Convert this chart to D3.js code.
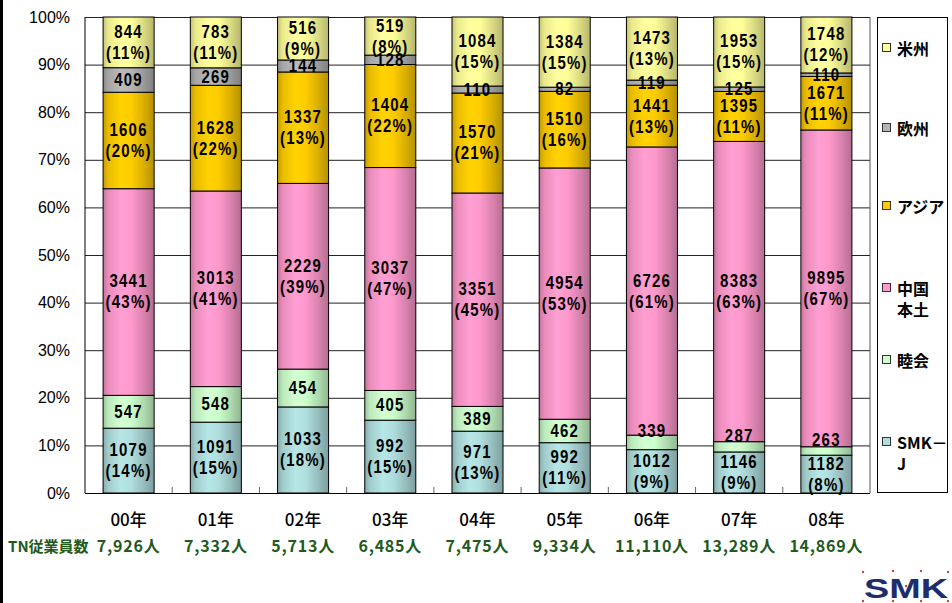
<!DOCTYPE html>
<html><head><meta charset="utf-8">
<script src="https://cdn.jsdelivr.net/npm/d3@7/dist/d3.min.js"></script>
<style>
body{margin:0;background:#fff;}
svg{display:block;}
</style></head>
<body>
<svg id="chart" width="952" height="603"></svg>
<script>
// ---- data ----
const categories = ["00年","01年","02年","03年","04年","05年","06年","07年","08年"];
const employeeTotals = ["7,926人","7,332人","5,713人","6,485人","7,475人","9,334人","11,110人","13,289人","14,869人"];
const seriesNames = ["SMK-J","睦会","中国本土","アジア","欧州","米州"]; // bottom to top
const legendLines = [["SMK－","J"],["睦会"],["中国","本土"],["アジア"],["欧州"],["米州"]];
const smkJ    = [1079,1091,1033,992,971,992,1012,1146,1182];
const mutsukai= [547,548,454,405,389,462,339,287,263];
const china   = [3441,3013,2229,3037,3351,4954,6726,8383,9895];
const asia    = [1606,1628,1337,1404,1570,1510,1441,1395,1671];
const europe  = [409,269,144,128,110,82,119,125,110];
const america = [844,783,516,519,1084,1384,1473,1953,1748];
const pctSmkJ    = [14,15,18,15,13,11,9,9,8];
const pctChina   = [43,41,39,47,45,53,61,63,67];
const pctAsia    = [20,22,13,22,21,16,13,11,11];
const pctAmerica = [11,11,9,8,15,15,13,15,12];
const yTicks = [0,0.1,0.2,0.3,0.4,0.5,0.6,0.7,0.8,0.9,1.0];

const seriesValues = [smkJ, mutsukai, china, asia, europe, america];
const seriesPct = [pctSmkJ, null, pctChina, pctAsia, null, pctAmerica];
const seriesColors = ["#b0dede","#ccffcc","#ff99cc","#ffcc00","#b4b4b4","#ffff99"];

const rows = categories.map((c,i)=>{
  const r = {cat:c, i:i};
  seriesNames.forEach((s,k)=>{ r[s] = seriesValues[k][i]; });
  return r;
});

const svg = d3.select("#chart");
const L = 85, R = 870, T = 17, B = 493;
const x = d3.scaleBand().domain(categories).range([L,R]).paddingInner(0.415).paddingOuter(0.2075);
const y = d3.scaleLinear().domain([0,1]).range([B,T]);

// left black border
svg.append("rect").attr("x",0).attr("y",0).attr("width",3).attr("height",603).attr("fill","#000");

// gradients
const defs = svg.append("defs");
seriesColors.forEach((c,k)=>{
  const g = defs.append("linearGradient").attr("id","g"+k).attr("x1","0%").attr("x2","100%").attr("y1","0%").attr("y2","0%");
  const base = d3.color(c);
  const stops = [[0, base.darker(0.75)],[0.1, base.darker(0.25)],[0.35, base.brighter(0.1)],[0.55, base],[0.8, base.darker(0.45)],[1, base.darker(0.95)]];
  stops.forEach(([o,col])=>g.append("stop").attr("offset",o).attr("stop-color",col.formatHex()));
});

// gridlines
svg.append("g").attr("transform",`translate(${L},0)`)
  .call(d3.axisLeft(y).tickValues(yTicks).tickSize(-(R-L)).tickFormat(""))
  .call(g=>g.select(".domain").remove())
  .call(g=>g.selectAll("line").attr("stroke","#222").attr("stroke-width",1));

// plot borders
svg.append("line").attr("x1",R).attr("x2",R).attr("y1",T).attr("y2",B).attr("stroke","#555");
svg.append("line").attr("x1",L).attr("x2",L).attr("y1",T).attr("y2",B).attr("stroke","#000");

// y labels
svg.append("g").attr("transform",`translate(${L},0)`)
  .call(d3.axisLeft(y).tickValues(yTicks).tickSize(0).tickPadding(15).tickFormat(d3.format(".0%")))
  .call(g=>g.select(".domain").remove())
  .call(g=>g.selectAll("text").attr("font-family","Liberation Sans, Arial, sans-serif").attr("font-size",16).attr("fill","#000"));

// stack
const stack = d3.stack().keys(seriesNames).offset(d3.stackOffsetExpand);
const stacked = stack(rows);

const barG = svg.append("g");
stacked.forEach((layer,k)=>{
  barG.selectAll(null).data(layer).enter().append("rect")
    .attr("x",d=>x(d.data.cat))
    .attr("width",x.bandwidth())
    .attr("y",d=>y(d[1]))
    .attr("height",d=>y(d[0])-y(d[1]))
    .attr("fill",`url(#g${k})`)
    .attr("stroke","#000").attr("stroke-width",1);
});

// bottom axis line and category ticks
svg.append("g").attr("transform",`translate(0,${B})`)
  .call(d3.axisBottom(x).tickSize(0).tickFormat(""))
  .call(g=>g.select(".domain").attr("stroke","#000").attr("d",`M${L},0.5H${R}`));
const step = x.step();
svg.append("g").selectAll("line").data(d3.range(1,categories.length)).enter().append("line")
  .attr("x1",d=>L+d*step).attr("x2",d=>L+d*step).attr("y1",B).attr("y2",B-6)
  .attr("stroke","#666").attr("stroke-width",1);

// value labels (tall, narrow glyphs); value + percent in one text element
const labG = svg.append("g").attr("font-family","Liberation Sans, Arial, sans-serif").attr("font-weight","bold")
  .attr("font-size",15).attr("fill","#000").attr("text-anchor","middle");
const SY = 1.2;
stacked.forEach((layer,k)=>{
  layer.forEach((d,i)=>{
    const cx = x(d.data.cat) + x.bandwidth()/2;
    const y0 = y(d[0]), y1 = y(d[1]);
    const cy = (y0+y1)/2;
    const v = seriesValues[k][i];
    const p = seriesPct[k] ? seriesPct[k][i] : null;
    if (p !== null) {
      const t = labG.append("text").attr("transform",`translate(${cx},${cy-10.5}) scale(1,${SY})`)
        .attr("letter-spacing",1.2);
      t.append("tspan").attr("x",0).attr("y",0).attr("dominant-baseline","central").text(v);
      t.append("tspan").attr("x",0).attr("y",21/SY).attr("dominant-baseline","central").text(`(${p}%)`);
    } else {
      let yy = cy;
      if (seriesNames[k]==="睦会" && (y0-y1) < 16) yy = cy - 11;
      labG.append("text").attr("transform",`translate(${cx},${yy}) scale(1,${SY})`)
        .attr("dominant-baseline","central").attr("letter-spacing",1.2).text(v);
    }
  });
});

// category labels
svg.append("g").selectAll("text").data(categories).enter().append("text")
  .attr("x",d=>x(d)+x.bandwidth()/2).attr("y",518).attr("dominant-baseline","central")
  .attr("text-anchor","middle").attr("font-family","'Noto Sans CJK JP', sans-serif").attr("font-weight",500)
  .attr("font-size",17).attr("fill","#000").text(d=>d);

// employee totals
const green = "#1f5a1f";
svg.append("text").attr("x",8).attr("y",545).attr("dominant-baseline","central")
  .attr("font-family","'Noto Sans CJK JP', sans-serif").attr("font-weight","bold").attr("font-size",15)
  .attr("fill",green).text("TN従業員数");
svg.append("g").selectAll("text").data(employeeTotals).enter().append("text")
  .attr("x",(d,i)=>x(categories[i])+x.bandwidth()/2).attr("y",545).attr("dominant-baseline","central")
  .attr("text-anchor","middle").attr("font-family","'Noto Sans CJK JP', sans-serif").attr("font-weight","bold")
  .attr("font-size",16).attr("letter-spacing",0.8).attr("fill",green).text(d=>d);

// legend
svg.append("rect").attr("x",877.5).attr("y",17.5).attr("width",70).attr("height",475)
  .attr("fill","#fff").attr("stroke","#000");
const legendY = {"米州":48,"欧州":128,"アジア":206,"中国本土":288,"睦会":360,"SMK-J":442};
const lg = svg.append("g");
seriesNames.forEach((s,k)=>{
  const yy = legendY[s];
  lg.append("rect").attr("x",882.5).attr("y",yy-4.5).attr("width",8).attr("height",8)
    .attr("fill",seriesColors[k]).attr("stroke","#333");
  const t = lg.append("text").attr("font-family","'Noto Sans CJK JP', sans-serif").attr("font-weight","bold")
    .attr("font-size",16).attr("fill","#000");
  legendLines[k].forEach((line,j)=>{
    t.append("tspan").attr("x",897).attr("y",yy+j*21).attr("dominant-baseline","central").text(line);
  });
});

// SMK logo
const logo = svg.append("g");
[[863,572],[893,571],[921,571],[948,572],[863,601],[893,601],[921,601],[948,601],[906,586]].forEach(([a,b])=>{
  logo.append("circle").attr("cx",a).attr("cy",b).attr("r",1.2).attr("fill","#d04040");
});
logo.append("text").attr("x",864).attr("y",598).attr("font-family","Liberation Sans, Arial, sans-serif")
  .attr("font-weight","bold").attr("font-size",27).attr("fill","#1e2d6b")
  .attr("textLength",84).attr("lengthAdjust","spacingAndGlyphs").text("SMK");
</script>
</body></html>
